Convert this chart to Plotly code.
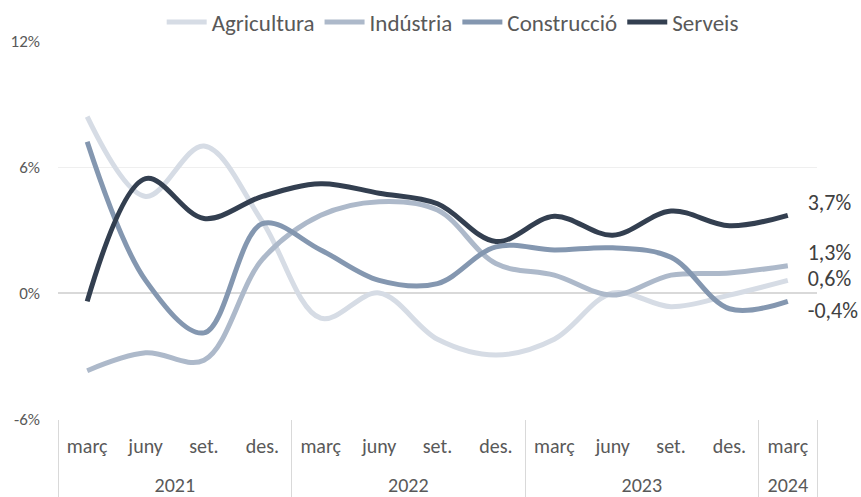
import plotly.graph_objects as go

years = ["2021"] * 4 + ["2022"] * 4 + ["2023"] * 4 + ["2024"]
months = ["març", "juny", "set.", "des."] * 3 + ["març"]

agricultura = [8.4, 4.6, 7.0, 3.4, -1.2, 0.0, -2.2, -2.95, -2.2, 0.0, -0.65, -0.1, 0.6]
industria = [-3.7, -2.85, -3.2, 1.6, 3.7, 4.35, 3.95, 1.4, 0.85, -0.1, 0.85, 0.95, 1.3]
construccio = [7.2, 0.6, -1.9, 3.3, 2.05, 0.6, 0.45, 2.2, 2.05, 2.15, 1.7, -0.75, -0.4]
serveis = [-0.4, 5.45, 3.55, 4.6, 5.2, 4.75, 4.25, 2.45, 3.65, 2.75, 3.9, 3.2, 3.7]

series = [
    ("Agricultura", agricultura, "#d6dce5", "middle right"),
    ("Indústria", industria, "#adb9ca", "top right"),
    ("Construcció", construccio, "#8497b0", "bottom right"),
    ("Serveis", serveis, "#333f50", "top right"),
]

font = "Carlito, Calibri, Lato, sans-serif"
pad = "\u00a0" * 4

# month labels get an extra (blank) line so the year row sits lower
month_lbl = [m + "<br>\u00a0" for m in months]

fig = go.Figure()
for name, vals, col, pos in series:
    labels = [""] * (len(vals) - 1) + [pad + f"{vals[-1]:.1f}".replace(".", ",") + "%"]
    fig.add_trace(go.Scatter(
        x=[years, month_lbl], y=vals, name=name,
        mode="lines+text", text=labels, textposition=pos,
        textfont=dict(size=22, color="#404040", family=font),
        line=dict(color=col, width=5, shape="spline", smoothing=1),
        cliponaxis=False,
    ))

fig.update_layout(
    width=861, height=497,
    margin=dict(l=58, r=44, t=41, b=78, autoexpand=False),
    plot_bgcolor="white", paper_bgcolor="white",
    font=dict(family=font, color="#595959"),
    showlegend=True,
    legend=dict(orientation="h", x=0.52, xanchor="center", y=1.05, yanchor="middle",
                font=dict(size=23, color="#595959"), itemwidth=40, tracegroupgap=0),
)
fig.update_yaxes(range=[-6, 12], tickvals=[-6, 0, 6, 12],
                 ticktext=["-6%", "0%", "6%", "12%"],
                 showgrid=True, gridcolor="#efefef", gridwidth=1,
                 zeroline=True, zerolinecolor="#d9d9d9", zerolinewidth=2,
                 tickfont=dict(size=17, color="#595959"), ticklabelstandoff=17,
                 ticks="", showline=False, automargin=False)
fig.update_xaxes(type="multicategory", range=[-0.5, 12.5], showgrid=False, showline=False,
                 showdividers=True, dividercolor="#d9d9d9", dividerwidth=1,
                 tickfont=dict(size=20, color="#595959"), ticks="",
                 ticklabelstandoff=13, automargin=False)

# drop the browser's default page margin so the figure fills the window
fig.write_html("out.html", config={"displayModeBar": False},
               post_script="document.body.style.margin='0';")
